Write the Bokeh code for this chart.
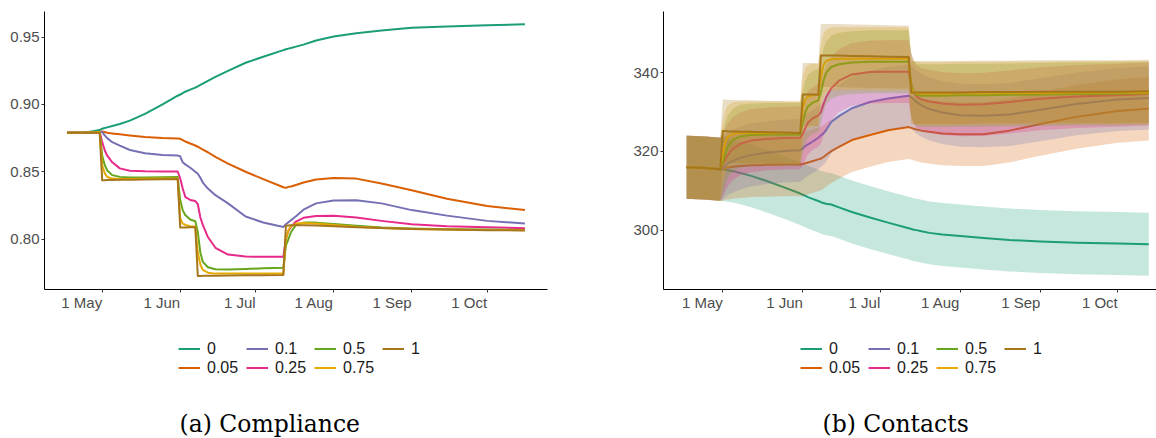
import pandas as pd
from bokeh.plotting import figure
from bokeh.models import Range1d, FixedTicker, Legend, LegendItem, Label, NumeralTickFormatter
from bokeh.layouts import row, column
from bokeh.embed import file_html
from bokeh.resources import INLINE

# ---------------- data ----------------
series_names = ["0", "0.05", "0.1", "0.25", "0.5", "0.75", "1"]
colors = ["#1b9e77", "#d95f02", "#7570b3", "#e7298a", "#66a61e", "#e6ab02", "#a6761d"]

dates = ["2020-04-17", "2020-04-24", "2020-04-30", "2020-05-01", "2020-05-02", "2020-05-03",
         "2020-05-05", "2020-05-08", "2020-05-12", "2020-05-18", "2020-05-25", "2020-05-31",
         "2020-06-01", "2020-06-02", "2020-06-03", "2020-06-05", "2020-06-07", "2020-06-08",
         "2020-06-09", "2020-06-10", "2020-06-12", "2020-06-15", "2020-06-20", "2020-06-27",
         "2020-07-04", "2020-07-12", "2020-07-13", "2020-07-14", "2020-07-15", "2020-07-17",
         "2020-07-20", "2020-07-25", "2020-08-01", "2020-08-10", "2020-08-20", "2020-09-01",
         "2020-09-15", "2020-10-01", "2020-10-16"]
dates_contacts = dates[:-1] + ["2020-10-13"]

tick_dates = ["2020-05-01", "2020-06-01", "2020-07-01", "2020-08-01", "2020-09-01", "2020-10-01"]
tick_labels = ["1 May", "1 Jun", "1 Jul", "1 Aug", "1 Sep", "1 Oct"]
compliance_ticks = [0.80, 0.85, 0.90, 0.95]
contacts_ticks = [300, 320, 340]

compliance_0 = [0.879, 0.879, 0.881, 0.882, 0.8825, 0.883, 0.884, 0.8855, 0.888, 0.893, 0.900, 0.9065,
                0.9074, 0.9085, 0.9095, 0.911, 0.9125, 0.9135, 0.9145, 0.9155, 0.9175, 0.9205, 0.925,
                0.931, 0.9355, 0.9404, 0.941, 0.9415, 0.942, 0.943, 0.9445, 0.9475, 0.9505, 0.953,
                0.955, 0.957, 0.958, 0.9588, 0.9596]
compliance_005 = [0.879, 0.879, 0.8795, 0.880, 0.8795, 0.879, 0.8785, 0.8778, 0.877, 0.8758, 0.875, 0.8748,
                  0.8745, 0.8735, 0.8725, 0.871, 0.8695, 0.8686, 0.8675, 0.8665, 0.8645, 0.861, 0.856,
                  0.850, 0.8445, 0.8385, 0.838, 0.8388, 0.839, 0.8402, 0.842, 0.8442, 0.8454, 0.8449,
                  0.8412, 0.8363, 0.830, 0.8245, 0.8215]
compliance_01 = [0.879, 0.879, 0.8795, 0.8795, 0.877, 0.875, 0.872, 0.8694, 0.8662, 0.8638, 0.8625, 0.862,
                 0.8615, 0.857, 0.8555, 0.853, 0.850, 0.8485, 0.8455, 0.842, 0.8375, 0.8326, 0.8265,
                 0.8167, 0.8123, 0.809, 0.811, 0.8125, 0.814, 0.817, 0.8218, 0.8265, 0.8287, 0.8289,
                 0.8265, 0.8215, 0.8174, 0.8135, 0.8115]
compliance_025 = [0.879, 0.879, 0.8795, 0.872, 0.866, 0.862, 0.857, 0.8525, 0.8508, 0.8503, 0.8502, 0.8502,
                  0.845, 0.8375, 0.8314, 0.829, 0.8282, 0.826, 0.816, 0.8105, 0.8015, 0.7935, 0.7885,
                  0.787, 0.7868, 0.7868, 0.800, 0.806, 0.809, 0.813, 0.8158, 0.8172, 0.8173, 0.816,
                  0.8135, 0.811, 0.8095, 0.8087, 0.8081]
compliance_05 = [0.879, 0.879, 0.8795, 0.862, 0.855, 0.851, 0.8475, 0.8462, 0.8457, 0.8458, 0.846, 0.8461,
                 0.829, 0.8215, 0.8179, 0.8145, 0.8132, 0.805, 0.790, 0.783, 0.779, 0.7775, 0.7774,
                 0.7778, 0.7782, 0.7787, 0.795, 0.800, 0.805, 0.8105, 0.8122, 0.8122, 0.8112, 0.8098,
                 0.8086, 0.8078, 0.8073, 0.807, 0.8068]
compliance_075 = [0.879, 0.879, 0.8795, 0.8546, 0.849, 0.8461, 0.8449, 0.8447, 0.8447, 0.8448, 0.8449, 0.8449,
                  0.8154, 0.8115, 0.8105, 0.8095, 0.8093, 0.790, 0.7811, 0.777, 0.775, 0.7743, 0.7743,
                  0.7743, 0.7743, 0.7743, 0.800, 0.8065, 0.8095, 0.8115, 0.812, 0.8115, 0.8105, 0.8092,
                  0.8082, 0.8075, 0.807, 0.8067, 0.8066]
compliance_1 = [0.879, 0.879, 0.879, 0.8436, 0.8437, 0.8438, 0.8439, 0.844, 0.8441, 0.8443, 0.8445, 0.8447,
                0.8085, 0.8086, 0.8086, 0.8087, 0.8088, 0.7726, 0.7726, 0.7727, 0.7727, 0.7728, 0.7729,
                0.773, 0.7731, 0.7733, 0.8098, 0.81, 0.8102, 0.8103, 0.8103, 0.81, 0.8095, 0.8088,
                0.8082, 0.8075, 0.807, 0.8066, 0.8064]

contacts_0 = [316.0, 315.8, 315.5, 315.4, 315.3, 315.2, 315.0, 314.5, 313.8, 312.5, 310.8, 309.3,
              309.0, 308.7, 308.4, 307.9, 307.4, 307.1, 306.9, 306.7, 306.5, 305.8, 304.6, 303.2,
              301.9, 300.5, 300.3, 300.1, 300.0, 299.7, 299.3, 298.9, 298.5, 298.0, 297.5, 297.1,
              296.8, 296.6, 296.4]
contacts_005 = [316.0, 315.8, 315.5, 315.6, 315.8, 315.9, 316.1, 316.3, 316.5, 316.6, 316.7, 316.7,
                316.8, 317.0, 317.2, 317.6, 318.0, 318.2, 318.6, 319.1, 320.1, 321.2, 322.9, 324.2,
                325.4, 326.2, 326.0, 325.8, 325.6, 325.3, 325.0, 324.6, 324.4, 324.4, 325.3, 327.0,
                328.8, 330.3, 330.9]
contacts_01 = [316.0, 315.8, 315.5, 315.8, 316.4, 317.0, 317.6, 318.4, 319.1, 319.7, 320.1, 320.3,
               320.8, 321.4, 321.8, 322.6, 323.5, 324.1, 324.6, 325.4, 327.5, 329.0, 331.0, 332.6,
               333.5, 334.2, 333.8, 333.2, 332.6, 331.7, 330.8, 329.9, 329.2, 329.1, 329.4, 330.6,
               332.1, 333.2, 333.6]
contacts_025 = [316.0, 315.8, 315.5, 316.5, 318.0, 319.2, 320.8, 322.0, 322.8, 323.2, 323.4, 323.5,
                324.5, 326.0, 327.3, 328.5, 329.2, 330.0, 332.0, 333.8, 336.0, 338.0, 339.6, 340.2,
                340.3, 340.3, 337.0, 335.0, 334.0, 333.2, 332.7, 332.2, 331.9, 332.0, 332.6, 333.4,
                334.0, 334.3, 334.6]
contacts_05 = [316.0, 315.8, 315.5, 317.0, 319.5, 321.3, 323.0, 323.9, 324.2, 324.3, 324.3, 324.3,
               327.5, 330.0, 331.5, 332.5, 333.0, 335.0, 338.0, 340.0, 341.5, 342.2, 342.6, 342.8,
               342.8, 342.8, 337.0, 335.0, 334.4, 334.2, 334.2, 334.2, 334.3, 334.3, 334.4, 334.5,
               334.6, 334.7, 334.8]
contacts_075 = [316.0, 315.8, 315.5, 319.5, 322.5, 323.8, 324.5, 324.7, 324.7, 324.7, 324.7, 324.7,
                331.0, 333.3, 334.0, 334.3, 334.4, 339.0, 342.0, 343.0, 343.5, 343.6, 343.6, 343.6,
                343.6, 343.6, 336.0, 335.0, 334.8, 334.7, 334.7, 334.7, 334.8, 334.8, 334.9, 334.9,
                335.0, 335.0, 335.0]
contacts_1 = [316.0, 315.8, 315.5, 325.2, 325.2, 325.1, 325.1, 325.0, 325.0, 324.9, 324.8, 324.7,
              334.5, 334.5, 334.5, 334.5, 334.4, 344.4, 344.4, 344.4, 344.4, 344.4, 344.3, 344.2,
              344.1, 344.0, 335.0, 335.0, 335.0, 335.0, 335.0, 335.0, 335.0, 335.1, 335.1, 335.2,
              335.2, 335.2, 335.3]
# half-width of the uncertainty band of each series (contacts)
contacts_band_halfwidth = [8.0, 8.1, 8.0, 8.0, 8.0, 8.0, 8.0]

compliance = [compliance_0, compliance_005, compliance_01, compliance_025,
              compliance_05, compliance_075, compliance_1]
contacts = [contacts_0, contacts_005, contacts_01, contacts_025,
            contacts_05, contacts_075, contacts_1]

# ---------------- helpers ----------------
ORIGIN = pd.Timestamp("2020-01-01")


def to_day(s):
    return (pd.Timestamp(s) - ORIGIN).days


x_comp = [to_day(d) for d in dates]
x_cont = [to_day(d) for d in dates_contacts]
tick_days = [to_day(d) for d in tick_dates]

TICK_FONT = "Liberation Sans"


def style(p, yticks):
    p.outline_line_color = None
    p.xgrid.grid_line_color = None
    p.ygrid.grid_line_color = None
    p.background_fill_color = "white"
    p.border_fill_color = "white"
    for ax in (p.xaxis[0], p.yaxis[0]):
        ax.axis_line_color = "black"
        ax.axis_line_width = 1
        ax.major_tick_line_color = "#333333"
        ax.major_tick_out = 3
        ax.major_tick_in = 0
        ax.minor_tick_line_color = None
        ax.major_label_text_font = TICK_FONT
        ax.major_label_text_font_size = "15px"
        ax.major_label_text_color = "#4d4d4d"
        ax.major_label_standoff = 2
    p.yaxis[0].ticker = FixedTicker(ticks=yticks)
    xa = p.xaxis[0]
    xa.ticker = FixedTicker(ticks=tick_days)
    xa.major_label_overrides = {d: l for d, l in zip(tick_days, tick_labels)}
    # labels end at their tick (right-justified), as in the original
    xa.major_label_orientation = 0.0001
    xa.major_label_standoff = 10


def legend_panel(width, border_left, border_right, x_values, series,
                 legend_x, caption, caption_x):
    """A strip below a chart holding its key (two rows) and its caption.
    Its frame lines up with the chart's frame, and its units are pixels."""
    frame_w = width - border_left - border_right
    f = figure(width=width, height=116, output_backend="svg", toolbar_location=None,
               x_range=Range1d(0, frame_w), y_range=Range1d(0, 116),
               x_axis_location=None, y_axis_location=None,
               min_border_left=border_left, min_border_right=border_right,
               min_border_top=0, min_border_bottom=0)
    f.outline_line_color = None
    f.xgrid.grid_line_color = None
    f.ygrid.grid_line_color = None
    rs = [f.line(x_values, vals, line_color=col, line_width=2, visible=False)
          for col, vals in zip(colors, series)]
    leg = Legend(
        items=[LegendItem(label=n, renderers=[r]) for n, r in zip(series_names, rs)],
        orientation="vertical", nrows=2, location=(legend_x, 61),
        border_line_color=None, background_fill_alpha=0,
        label_text_font=TICK_FONT, label_text_font_size="16px", label_text_color="#1a1a1a",
        glyph_width=22, glyph_height=19, label_height=19, label_width=39, label_standoff=7,
        spacing=0, padding=0, margin=0,
    )
    f.add_layout(leg)
    f.add_layout(Label(x=caption_x, y=1, text=caption, text_font="DejaVu Serif",
                       text_font_size="23.5px", text_color="black",
                       text_align="left", text_baseline="bottom"))
    return f


# ---------------- (a) Compliance ----------------
p1 = figure(width=590, height=322, output_backend="svg", toolbar_location=None,
            x_range=Range1d(98.07, 297.97), y_range=Range1d(0.7625, 0.9691),
            min_border_left=44, min_border_right=43, min_border_top=11, min_border_bottom=30)
style(p1, compliance_ticks)
p1.yaxis[0].formatter = NumeralTickFormatter(format="0.00")
for col, vals in zip(colors, compliance):
    p1.line(x_comp, vals, line_color=col, line_width=2, line_join="round")
f1 = legend_panel(590, 44, 43, x_comp, compliance, 134, "(a) Compliance", 135)

# ---------------- (b) Contacts ----------------
p2 = figure(width=566, height=322, output_backend="svg", toolbar_location=None,
            x_range=Range1d(98.03, 289.0), y_range=Range1d(284.9, 355.6),
            min_border_left=73, min_border_right=0, min_border_top=11, min_border_bottom=30)
style(p2, contacts_ticks)
for col, vals, hw in zip(colors, contacts, contacts_band_halfwidth):
    lower = [v - hw for v in vals]
    upper = [v + hw for v in vals]
    p2.varea(x=x_cont, y1=lower, y2=upper, fill_color=col, fill_alpha=0.25)
    p2.line(x_cont, vals, line_color=col, line_width=2, line_join="round")
f2 = legend_panel(566, 73, 0, x_cont, contacts, 137, "(b) Contacts", 159)

layout = row(column(p1, f1), column(p2, f2))
open("out.html", "w").write(file_html(layout, INLINE))
